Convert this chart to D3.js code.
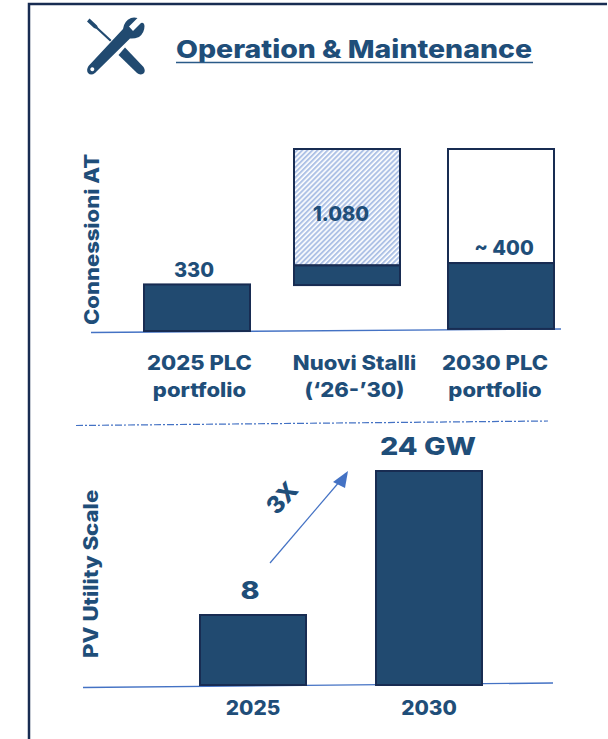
<!DOCTYPE html>
<html>
<head>
<meta charset="utf-8">
<script src="https://cdnjs.cloudflare.com/ajax/libs/d3/7.8.5/d3.min.js"></script>
<style>
  body { margin: 0; background: #fff; }
  text { font-family: Inter, "Open Sans", sans-serif; font-weight: 800; fill: #1f4e79; }
</style>
</head>
<body>
<svg width="608" height="739"></svg>
<script>
// top panel - source slide is not to scale, so heights are what the picture shows
var connCats = ["2025 PLC portfolio", "Nuovi Stalli (‘26-’30)", "2030 PLC portfolio"];
var connLines = [["2025 PLC", "portfolio"], ["Nuovi Stalli", "(‘26-’30)"], ["2030 PLC", "portfolio"]];
var connBase = [0, 312, 14];
var connSolidTop = [330, 459, 475];
var connBoxTop = [null, 1250, 1250];
var connLabels = ["330", "1.080", "~ 400"];

// bottom panel
var pvCats = ["2025", "2030"];
var pvValues = [8, 24];
var pvLabels = ["8", "24 GW"];

var navy = "#214a70";
var edge = "#182c52";
var blue = "#4472c4";

var svg = d3.select("svg");

// Inter is narrower than the slide font, pull the glyphs wider
function widen(sel, factor) {
    sel.each(function() {
        d3.select(this)
            .attr("textLength", this.getComputedTextLength() * factor)
            .attr("lengthAdjust", "spacingAndGlyphs");
    });
    return sel;
}

var defs = svg.append("defs");
var hatch = defs.append("pattern")
    .attr("id", "hatch")
    .attr("patternUnits", "userSpaceOnUse")
    .attr("width", 3.6)
    .attr("height", 3.6)
    .attr("patternTransform", "rotate(45)");
hatch.append("rect").attr("width", 3.6).attr("height", 3.6).attr("fill", "#fff");
hatch.append("rect").attr("width", 2).attr("height", 3.6).attr("fill", "#aec2e6");

// frame, runs off the page on the right and bottom
svg.append("path")
    .attr("d", "M29,760V4H607")
    .attr("fill", "none")
    .attr("stroke", edge)
    .attr("stroke-width", 2.5);

// icon
var icon = svg.append("g").attr("fill", navy).attr("stroke", "none");
icon.append("path")
    .attr("d", "M87,21.5L89.5,18.5L97,25.5L98,27.5L111.5,40L110,41.5L96.5,29L94,28Z");
icon.append("path")
    .attr("d", "M118.5,55L125,47.5L143.5,67Q146,71 143.5,73.5Q140,75.5 137,73Z");
icon.append("path")
    .attr("fill-rule", "evenodd")
    .attr("d", "M123,29Q124,21 131,18Q134,17 137.5,18L129,26.5L133,31L141,23Q144,22 144.5,26Q144.5,33 139,37Q134,39 130,38.5L95,73Q91,76 88,73Q86,70 88.5,66Z M92.3,67.3a2,2 0 1,0 .01,0Z");

// title
svg.append("text")
    .attr("x", 176)
    .attr("y", 58)
    .attr("textLength", 356)
    .attr("lengthAdjust", "spacingAndGlyphs")
    .style("font-size", "25px")
    .text("Operation & Maintenance");
svg.append("line")
    .attr("x1", 176).attr("x2", 533)
    .attr("y1", 62.5).attr("y2", 62.5)
    .attr("stroke", "#2a5a88")
    .attr("stroke-width", 1.6);

// top panel
var xConn = d3.scaleBand().domain(connCats).range([143, 555]).paddingInner(44 / 152);
var yConn = d3.scaleLinear().domain([0, 1250]).range([332, 148]);

// slide bars and labels are not evenly spaced
var connBarShift = [0, -2, 0];
var connLabelShift = [2.5, 5.5, -6];

svg.append("line")
    .attr("x1", 91).attr("y1", 332.5)
    .attr("x2", 561).attr("y2", 329)
    .attr("stroke", blue)
    .attr("stroke-width", 1.4);

var connBars = svg.selectAll(".conn")
    .data(connCats)
    .enter()
    .append("g")
    .attr("class", "conn")
    .attr("transform", function(d, i) { return "translate(" + connBarShift[i] + ",0)"; });

connBars.filter(function(d, i) { return connBoxTop[i] !== null; })
    .append("rect")
    .attr("x", function(d) { return xConn(d) + 1; })
    .attr("width", xConn.bandwidth() - 2)
    .attr("y", function(d) { return yConn(connBoxTop[connCats.indexOf(d)]) + 1; })
    .attr("height", function(d) {
        var i = connCats.indexOf(d);
        return yConn(connSolidTop[i]) - yConn(connBoxTop[i]);
    })
    .attr("fill", function(d) { return connCats.indexOf(d) == 1 ? "url(#hatch)" : "#fff"; })
    .attr("stroke", edge)
    .attr("stroke-width", 2);

connBars.append("rect")
    .attr("x", function(d) { return xConn(d) + 1; })
    .attr("width", xConn.bandwidth() - 2)
    .attr("y", function(d) { return yConn(connSolidTop[connCats.indexOf(d)]) + 1; })
    .attr("height", function(d) {
        var i = connCats.indexOf(d);
        return yConn(connBase[i]) - yConn(connSolidTop[i]) - 2;
    })
    .attr("fill", navy)
    .attr("stroke", edge)
    .attr("stroke-width", 2);

svg.append("text").attr("x", 194).attr("y", 277).attr("text-anchor", "middle").style("font-size", "20px").text(connLabels[0]);
svg.append("text").attr("x", 341).attr("y", 221).attr("text-anchor", "middle").style("font-size", "20px").text(connLabels[1]);
svg.append("text").attr("x", 504).attr("y", 255).attr("text-anchor", "middle").style("font-size", "20px").text(connLabels[2]);

var connAxis = svg.append("g")
    .attr("transform", "translate(0,350)")
    .call(d3.axisBottom(xConn).tickSize(0).tickFormat(""));
connAxis.select(".domain").remove();
connAxis.selectAll(".tick text").each(function(d) {
    var i = connCats.indexOf(d);
    var t = d3.select(this).attr("y", 20).attr("dy", null).style("font-size", "20px");
    connLines[i].forEach(function(s, k) {
        t.append("tspan").attr("x", connLabelShift[i]).attr("y", 20 + k * 27).text(s);
    });
});
widen(connAxis.selectAll("tspan"), 1.1);

widen(svg.append("text")
    .attr("transform", "translate(99,325) rotate(-90)")
    .style("font-size", "20px")
    .text("Connessioni AT"), 1.1);

// divider
svg.append("line")
    .attr("x1", 76).attr("y1", 425.5)
    .attr("x2", 548).attr("y2", 421)
    .attr("stroke", blue)
    .attr("stroke-width", 1.2)
    .attr("stroke-dasharray", "7 2 2 2");

// bottom panel
var xPv = d3.scaleBand().domain(pvCats).range([199, 483]).paddingInner(68 / 176);
var yPv = d3.scaleLinear().domain([0, 24]).range([686, 470]);

svg.append("line")
    .attr("x1", 83).attr("y1", 687.5)
    .attr("x2", 553).attr("y2", 683)
    .attr("stroke", blue)
    .attr("stroke-width", 1.4);

svg.selectAll(".pv")
    .data(pvValues)
    .enter()
    .append("rect")
    .attr("class", "pv")
    .attr("x", function(d, i) { return xPv(pvCats[i]) + 1; })
    .attr("width", xPv.bandwidth() - 2)
    .attr("y", function(d) { return yPv(d) + 1; })
    .attr("height", function(d) { return yPv(0) - yPv(d) - 2; })
    .attr("fill", navy)
    .attr("stroke", edge)
    .attr("stroke-width", 2);

widen(svg.selectAll(".pvLabel")
    .data(pvValues)
    .enter()
    .append("text")
    .attr("class", "pvLabel")
    .attr("x", function(d, i) { return xPv(pvCats[i]) + xPv.bandwidth() / 2 - 3 + i * 2; })
    .attr("y", function(d) { return yPv(d) - 15.5; })
    .attr("text-anchor", "middle")
    .style("font-size", "25px")
    .text(function(d, i) { return pvLabels[i]; }), 1.15);

var pvAxis = svg.append("g")
    .attr("transform", "translate(0,695)")
    .call(d3.axisBottom(xPv).tickSize(0));
pvAxis.select(".domain").remove();
widen(pvAxis.selectAll(".tick text")
    .attr("y", 20)
    .attr("dy", null)
    .style("font-size", "20px"), 1.04);

widen(svg.append("text")
    .attr("transform", "translate(98,658) rotate(-90)")
    .style("font-size", "20px")
    .text("PV Utility Scale"), 1.11);

// growth arrow
svg.append("line")
    .attr("x1", 270).attr("y1", 563)
    .attr("x2", 340).attr("y2", 481)
    .attr("stroke", blue)
    .attr("stroke-width", 1.2);
svg.append("path")
    .attr("d", "M348,471L333,482L345,488Z")
    .attr("fill", blue);
svg.append("text")
    .attr("transform", "translate(282,498) rotate(-48)")
    .attr("text-anchor", "middle")
    .attr("dy", "0.35em")
    .style("font-size", "24px")
    .text("3X");
</script>
</body>
</html>
